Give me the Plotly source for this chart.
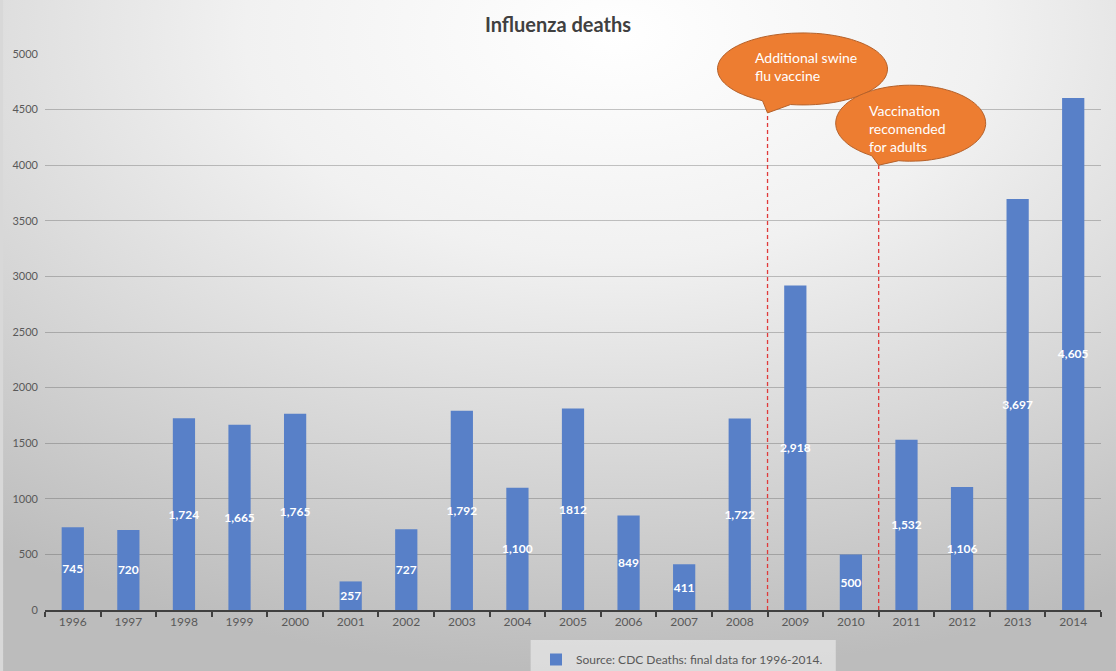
import base64
import math
import plotly.graph_objects as go

years = ["1996", "1997", "1998", "1999", "2000", "2001", "2002", "2003", "2004", "2005",
         "2006", "2007", "2008", "2009", "2010", "2011", "2012", "2013", "2014"]
deaths = [745, 720, 1724, 1665, 1765, 257, 727, 1792, 1100, 1812,
          849, 411, 1722, 2918, 500, 1532, 1106, 3697, 4605]
labels = ["745", "720", "1,724", "1,665", "1,765", "257", "727", "1,792", "1,100", "1812",
          "849", "411", "1,722", "2,918", "500", "1,532", "1,106", "3,697", "4,605"]

# callouts: marker line between two years (category index), its top, text
event_x = [12.5, 14.5]
event_top = [4470, 4000]
event_text = ["Additional swine<br>flu vaccine", "Vaccination<br>recomended<br>for adults"]

W, H = 1116, 671
L, R, T, B = 42, 15, 54, 61
PW, PH = W - L - R, H - T - B
YMAX = 5000


def px_x(p):
    return (p - L) / PW


def px_y(p):
    return (H - B - p) / PH


def bubble(cx, cy, rx, ry, left, right, n=80):
    # ellipse (pixels, relative to the tail tip, y up) with a tail down to (0, 0)
    tr = 2 * math.pi - math.acos((right - cx) / rx)
    tl = 2 * math.pi - math.acos((left - cx) / rx) + 2 * math.pi
    pts = ["M 0,0"]
    for i in range(n + 1):
        t = tr + (tl - tr) * i / n
        pts.append(f"L {cx + rx * math.cos(t):.1f},{cy + ry * math.sin(t):.1f}")
    pts.append("Z")
    return " ".join(pts)


# soft radial background like the office chart style
svg = (
    f'<svg xmlns="http://www.w3.org/2000/svg" width="{W}" height="{H}">'
    '<defs><radialGradient id="g" cx="0.55" cy="0.05" r="0.95">'
    '<stop offset="0" stop-color="#ffffff"/>'
    '<stop offset="0.35" stop-color="#f1f1f1"/>'
    '<stop offset="1" stop-color="#bcbcbc"/>'
    '</radialGradient></defs>'
    f'<rect width="{W}" height="{H}" fill="url(#g)"/></svg>'
)
bg = "data:image/svg+xml;base64," + base64.b64encode(svg.encode()).decode()

fig = go.Figure()
fig.add_trace(go.Bar(
    x=years, y=deaths, text=labels,
    texttemplate="<b>%{text}</b>",
    textposition="inside", insidetextanchor="middle",
    textangle=0, constraintext="none",
    textfont=dict(color="white", size=12, family="Lato"),
    marker=dict(color="#5880C8", line=dict(width=0)),
    name="Source: CDC Deaths: final data for 1996-2014.",
    showlegend=True,
))

shapes = []
# legend box
shapes.append(dict(type="rect", xref="paper", yref="paper",
                   x0=px_x(529), x1=px_x(835), y0=px_y(640), y1=px_y(680),
                   fillcolor="rgba(240,240,240,0.6)", line=dict(width=0), layer="below"))

bubbles = [(35, 44, 85, 36, -5, 23), (32, 42, 75, 38, -7, 20)]
annotations = []
for ex, top, txt, bb in zip(event_x, event_top, event_text, bubbles):
    shapes.append(dict(type="line", xref="x", yref="y", x0=ex, x1=ex, y0=0, y1=top,
                       line=dict(color="#e03a3a", width=1.3, dash="4px,3px")))
    # paper refs so the bubble is not clipped at the top of the plot
    shapes.append(dict(type="path", xref="paper", yref="paper",
                       xsizemode="pixel", ysizemode="pixel",
                       xanchor=(ex + 0.5) / len(years), yanchor=top / YMAX,
                       path=bubble(*bb),
                       fillcolor="#ED7D31", line=dict(color="#B5612A", width=1)))
    nlines = txt.count("<br>") + 1
    annotations.append(dict(xref="x", yref="y", x=ex, y=top, text=txt, showarrow=False,
                            xanchor="left", yanchor="middle", align="left",
                            xshift=-15 if nlines == 2 else -12,
                            yshift=46 if nlines == 2 else 37,
                            font=dict(color="white", size=14, family="Lato")))

fig.update_layout(
    width=W, height=H,
    margin=dict(l=L, r=R, t=T, b=B),
    paper_bgcolor="#d8d8d8",
    plot_bgcolor="rgba(0,0,0,0)",
    font=dict(family="Lato", color="#595959"),
    title=dict(text="<b>Influenza deaths</b>", x=0.5, xanchor="center",
               y=1 - 25 / H, yanchor="middle",
               font=dict(size=20, color="#404040", family="Lato")),
    bargap=0.6,
    showlegend=True,
    legend=dict(orientation="h", x=536 / W, y=1 - 645 / H, xref="container", yref="container",
                xanchor="left", yanchor="top",
                bgcolor="rgba(0,0,0,0)", font=dict(size=12, color="#595959")),
    shapes=shapes,
    annotations=annotations,
    images=[dict(source=bg, xref="paper", yref="paper", x=px_x(0), y=px_y(0),
                 sizex=W / PW, sizey=H / PH, sizing="stretch", layer="below",
                 xanchor="left", yanchor="top")],
)
fig.update_xaxes(type="category", range=[-0.5, 18.5], showline=True, linecolor="#404040",
                 linewidth=2, ticks="outside", tickson="boundaries", ticklen=5,
                 tickcolor="#404040", tickwidth=2, showgrid=False,
                 tickfont=dict(size=12, color="#595959"))
fig.update_yaxes(range=[0, YMAX], dtick=500, showline=False, zeroline=False,
                 gridcolor="rgba(90,90,90,0.35)", gridwidth=1,
                 tickfont=dict(size=11, color="#595959"), ticklabelstandoff=6)

fig.write_html("out.html", config={"displayModeBar": False},
               post_script="document.body.style.margin='0';")
